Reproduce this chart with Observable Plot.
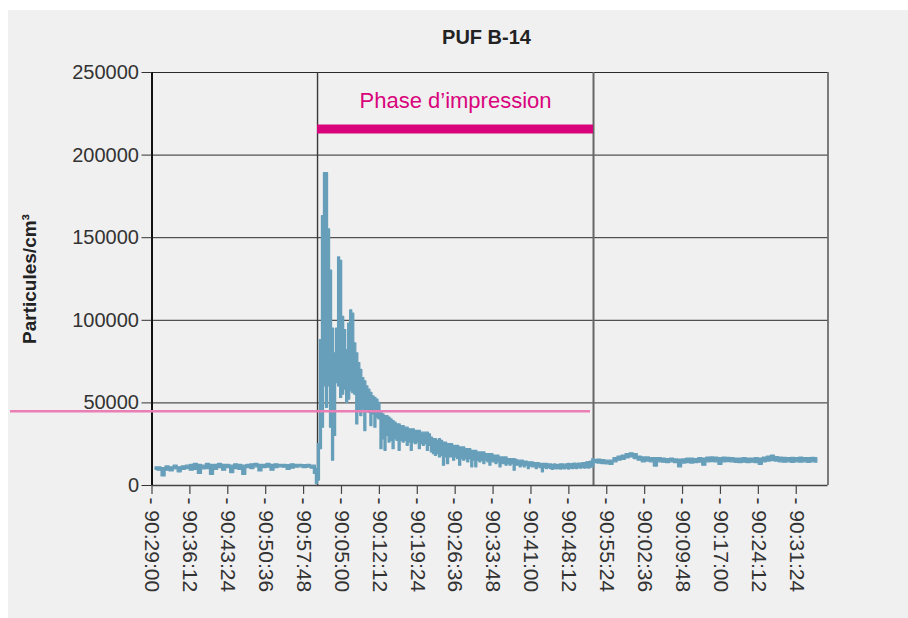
<!DOCTYPE html>
<html><head><meta charset="utf-8">
<script src="https://cdn.jsdelivr.net/npm/d3@7"></script>
<script src="https://cdn.jsdelivr.net/npm/@observablehq/plot@0.6"></script>
<style>
html,body{margin:0;padding:0;background:#fff;width:908px;height:618px;overflow:hidden;}
#panel{position:absolute;left:8px;top:10px;width:900px;height:608px;background:#f0f0f0;}
#chart{position:absolute;left:0;top:0;}
</style></head>
<body><div id="panel"></div><div id="chart"></div>
<script>
// ---- text ----
const title = "PUF B-14";
const yLabel = "Particules/cm³";
const phaseLabel = "Phase d’impression";

// ---- x axis (seconds since first tick) ----
const xTickLabels = ["90:29:00","90:36:12","90:43:24","90:50:36","90:57:48","90:05:00","90:12:12","90:19:24","90:26:36","90:33:48","90:41:00","90:48:12","90:55:24","90:02:36","90:09:48","90:17:00","90:24:12","90:31:24"];
const xTickInterval = 432; // 7 min 12 s between labels
const xMax = 7706;
const yTickValues = [0, 50000, 100000, 150000, 200000, 250000];
const yGridValues = [50000, 100000, 150000, 200000, 250000];

// ---- phase / threshold ----
const phaseStartTime = 1887;
const phaseEndTime = 5033;
const thresholdValue = 45000;
const thresholdFrom = -1613;
const thresholdTo = 4999;

// ---- measured series (thousands of particles/cm3), low / high envelope per sample ----
const preStart = 40, preStep = 46;
const preLow = [9.5,9,5.5,9,8.5,9.8,8,9.5,10,9, 9.5,7,9.8,10,6.5,9.5,10.5,9,10.5,7.5, 10,9.5,6.5,10.5,10,11,8.5,10.5,10.8,9, 10.5,11,10.8,9.5,10.2,10.8,11,10.5,10.8,10.2];
const preHigh = [11,11,10.5,11.5,11,12,11,11.5,12,12.5, 13,12.5,12,13,12.5,12.5,13,12.5,12.5,12, 12.8,12.5,12,12.5,12.8,13,12.5,12.5,13,12.5, 12.8,12.5,12.5,12.3,12.8,12.5,12.5,12.3,12.5,12];

const phaseStart = 1857, phaseStep = 23;
const phaseLow = [7,0.8,3,22,35,60,47,60,35,15, 30,62,60,53,55,58,50,52,57,56, 55,37,45,42,46,33,45,44,36,43, 35,41,40,22,28,21,30,26,27,22, 28,27,21,27,26,27,24,26,21,26, 25,26,22,25,24,25,21,24,20,19, 18,19,17,18,12,17,13,17,17,15, 17,16,12,16,15,16,14,16,11,15, 11,15,14,15,13,15,14,12,14,14, 13,14,11,13,13,12,13,12,13,9, 12,12,11,12,11,12,10,11.5,11,11, 10,11,10.5,8,10.5,10,10.5,10,9.5,10, 9.8,10,9.7,10,9.8,10.2,9.7,10.3,10,10.3, 10,10.5,10.2,10.5,10.3,10.6,10.3,10.8,11];
const phaseHigh = [12,10,25,88,163,189,189,155,130,95, 80,95,138,136,102,94,82,98,106,104, 86,80,74,70,65,63,60,58,56,54, 53,52,50,44,43,42,42,41,40,39, 38,37,37,36,36,35,35,34,34,34, 33,33,33,32,32,32,32,31,29,28, 28,27,28,27,26,26,25,25,25,24, 24,24,23,23,23,22,22,22,21,21, 21,20,20,20,20,19,19,19,19,18, 18,18,17,17,17,17,16,16,16,16, 15.5,15,15,15,14.5,14.5,14,14,14,13.5, 13.5,13.5,13,13,13,13,12.8,12.7,12.5,12.7, 12.5,12.5,12.8,12.7,12.6,12.8,13,12.8,13,13.2, 13,13.3,13.3,13.5,13.5,14,14.2,14.5,16];

const postStart = 5054, postStep = 46;
const postLow = [13.5,13.3,13,12.8,12.5,14,15,15.5,16.5,17, 16,15,14,14.5,14,11.5,14,13.8,13.5,14, 13.5,11,13.3,13.5,13.3,13.5,13.8,12,14,14.2, 14,12.5,14,14.2,14,13.7,13.5,13.8,13.5,13.8, 13.5,12.5,14,14.5,14.7,14.5,14,13.8,14,13.7, 14,13.8,14,13.7,14,13.8];
const postHigh = [15.5,15.7,15.3,15,15,16.5,17.5,18,19,19.5, 19,17.5,17,17,16.5,16.5,16.5,16.3,16,16.2, 15.8,15.7,15.8,16.2,16.3,16,16.5,16.3,16.8,17, 16.8,16.5,16.8,16.7,16.5,16.3,16.3,16.5,16.3,16.2, 16.5,16.3,16.8,17.5,18,17.2,16.8,16.7,16.5,16.7, 16.6,16.8,16.5,16.6,16.7,16.5];

// ---- build rows: one envelope (low/high) per sample ----
const rows = [];
function addSegment(start, step, lows, highs) {
  lows.forEach((lo, i) => rows.push({t: start + i * step, lo: lo * 1000, hi: highs[i] * 1000}));
}
addSegment(preStart, preStep, preLow, preHigh);
addSegment(phaseStart, phaseStep, phaseLow, phaseHigh);
addSegment(postStart, postStep, postLow, postHigh);

const xTicks = xTickLabels.map((label, i) => ({t: i * xTickInterval, label}));

const seriesColor = "#679fba";
const font = "'Liberation Sans', Arial, Helvetica, sans-serif";
const chart = Plot.plot({
  width: 908, height: 618,
  marginLeft: 151.5, marginRight: 80.5, marginTop: 72, marginBottom: 133,
  x: {domain: [0, xMax], axis: null},
  y: {domain: [0, 250000], axis: null},
  style: {background: "transparent", fontFamily: font, overflow: "visible"},
  marks: [
    Plot.ruleY(yGridValues, {x1: () => 0, x2: () => xMax, stroke: "#2a2a2a", strokeWidth: 1}),
    Plot.ruleX([phaseStartTime], {y1: () => 0, y2: () => 250000, stroke: "#3a3a3a", strokeWidth: 1.4}),
    Plot.ruleX([phaseEndTime], {y1: () => 0, y2: () => 250000, stroke: "#666", strokeWidth: 2}),
    Plot.ruleX([xMax], {y1: () => 0, y2: () => 250000, stroke: "#555", strokeWidth: 1.5}),
    Plot.areaY(rows, {x: "t", y1: "lo", y2: "hi", fill: seriesColor, stroke: seriesColor, strokeWidth: 1.3, curve: "step"}),
    Plot.ruleY([0], {x1: () => 0, x2: () => xMax, stroke: "#444", strokeWidth: 1.5}),
    Plot.ruleX([0], {y1: () => 0, y2: () => 250000, stroke: "#111", strokeWidth: 2}),
    Plot.ruleY([thresholdValue], {x1: () => thresholdFrom, x2: () => thresholdTo, stroke: "#ea7fb6", strokeWidth: 2.5}),
    Plot.ruleY([215800], {x1: () => phaseStartTime, x2: () => phaseEndTime, stroke: "#d9047c", strokeWidth: 9}),
    Plot.text([phaseLabel], {x: () => (phaseStartTime + phaseEndTime) / 2, y: () => 233000, text: d => d,
      fill: "#d9047c", fontSize: 22, lineAnchor: "middle", textAnchor: "middle"}),
    Plot.axisY({ticks: yTickValues, tickFormat: d => String(d), tickSize: 10, tickPadding: 3,
      fontSize: 20, color: "#333", label: null}),
    Plot.ruleX(xTicks, {x: "t", y1: () => 0, y2: () => -5400, stroke: "#444", strokeWidth: 1.2}),
    Plot.text(xTicks, {x: "t", y: () => 0, text: d => "- " + d.label, rotate: 90, textAnchor: "start",
      lineAnchor: "middle", dy: 12, fontSize: 21, fill: "#333"}),
    Plot.text([title], {frameAnchor: "top", dx: -3.5, dy: -35, text: d => d, fontSize: 20,
      fontWeight: "bold", fill: "#222", lineAnchor: "middle"}),
    Plot.text([yLabel], {frameAnchor: "left", dx: -122.5, text: d => d, rotate: -90, fontSize: 19,
      fontWeight: "bold", fill: "#222", lineAnchor: "middle", textAnchor: "middle"})
  ]
});
document.getElementById("chart").appendChild(chart);
</script>
</body></html>
